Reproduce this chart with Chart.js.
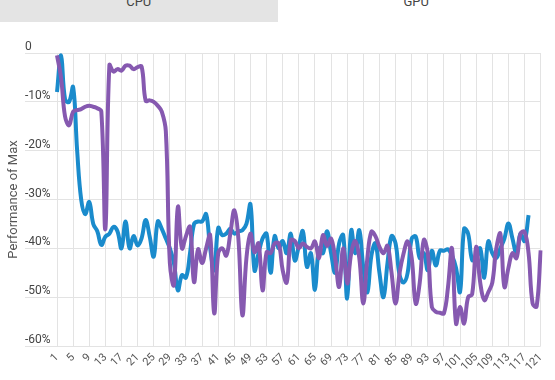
<!DOCTYPE html>
<html><head><meta charset="utf-8">
<script src="https://cdn.jsdelivr.net/npm/chart.js@4"></script>
<style>
html,body{margin:0;padding:0;background:#fff;width:555px;height:380px;overflow:hidden;font-family:Roboto,"Liberation Sans",sans-serif}
.tabs{position:absolute;left:0;top:0;width:555px;height:22px;display:flex}
.tab{flex:1;text-align:center;font-size:13px;color:#444;line-height:16px;overflow:hidden}
.tab span{position:relative;top:-6px}
.tab.cpu{background:#e4e4e4}
#wrap{position:absolute;left:0;top:22px;width:555px;height:358px}
</style></head><body>
<div class="tabs"><div class="tab cpu"><span>CPU</span></div><div class="tab gpu"><span>GPU</span></div></div>
<div id="wrap"><canvas id="c"></canvas></div>
<script>
const categories = Array.from({length:121},(_,i)=>String(i+1));
const tickStep = 4;
const yTicks = [0,-10,-20,-30,-40,-50,-60];

const blueSeries = [-8,-0.5,-9.5,-10,-7,-20,-30,-33,-30.5,-35,
-36.5,-39.3,-37.6,-37,-35.6,-36.5,-40,-34.5,-40,-37.5,
-39.4,-37.9,-34.2,-37.6,-41.7,-34.5,-36,-38,-40,-43,
-48.6,-45.5,-46,-41,-35,-34.5,-34.5,-33,-40,-44.5,
-35.8,-37.3,-37,-36,-37,-36.5,-36.3,-35,-31,-44.5,
-41,-38,-37,-45,-37.5,-40,-38.5,-41,-37,-42.5,
-39.5,-36.5,-43.8,-41,-48.5,-40,-41,-36.5,-41,-45,
-39,-37.3,-50.3,-36.3,-41,-36.3,-44,-49,-41.5,-39,
-45,-50,-43,-37.5,-39,-45.5,-47,-45,-38,-37.6,
-42,-41,-44.5,-40.5,-43.5,-40.5,-40.5,-40.2,-41.5,-44,
-48.9,-36,-37,-42.4,-42,-40,-46,-38.6,-41,-42,
-40,-38,-34.9,-38,-41,-37,-38.5,-33.2];

const purpleSeries = [-0.5,-5,-13,-14.8,-12,-11.7,-11.5,-11,-10.8,-11,
-11.3,-12,-36,-2.5,-3.8,-3.3,-3.6,-2.6,-2.6,-3.3,
-2.9,-2.8,-9.8,-9.7,-10,-10.8,-12,-16,-43,-47.5,
-31.5,-40,-37.5,-35.6,-46.9,-40.2,-43,-40,-37.3,-53.3,
-41,-40,-41.5,-37,-32.2,-38,-53.7,-42,-37,-40.8,
-39,-48.6,-40.8,-41,-39,-39,-44.5,-47,-38.3,-38.5,
-40,-39,-39.7,-40,-38.6,-42,-37.3,-39.5,-38,-42,
-47.9,-40,-47.2,-41,-38.5,-42,-51.3,-42,-36.6,-37.5,
-39.7,-41,-39.5,-45,-51.3,-45,-41,-38.6,-42,-51.3,
-47,-38.3,-41,-52,-53,-53.2,-53.3,-48,-40,-55.4,
-52,-55.4,-50,-49.4,-39.7,-47,-50.6,-49,-47,-40,
-37,-47.9,-44,-41,-42,-37,-36.6,-41,-51.3,-51.9,-40.4];

const BLUE = '#1a8bcc';
const PURPLE = '#8659b0';
const GRID = '#e3e3e3';

Chart.defaults.font.family = 'Roboto, "Liberation Sans", sans-serif';

new Chart(document.getElementById('c'), {
  type: 'line',
  data: {
    labels: categories,
    datasets: [
      {label:'Series 2', data: purpleSeries, borderColor: PURPLE, backgroundColor: PURPLE, borderWidth: 4, pointRadius: 0, tension: 0.4, fill: false},
      {label:'Series 1', data: blueSeries, borderColor: BLUE, backgroundColor: BLUE, borderWidth: 4, pointRadius: 0, tension: 0.4, fill: false}
    ]
  },
  options: {
    responsive: true,
    maintainAspectRatio: false,
    animation: false,
    layout: {padding: {left: 0, right: 11, top: 31, bottom: 0}},
    plugins: {legend: {display: false}, tooltip: {enabled: false}},
    scales: {
      x: {
        grid: {color: c => (c.index % tickStep === 0 ? GRID : 'rgba(0,0,0,0)'), drawTicks: false},
        border: {display: false},
        ticks: {autoSkip: false, maxRotation: 45, minRotation: 45, padding: 5, color: '#555', font: {size: 11},
          callback: (v, i) => (i % tickStep === 0 ? categories[i] : '')},
        afterFit: s => { s.height = 34; }
      },
      y: {
        min: yTicks[yTicks.length-1], max: yTicks[0],
        afterBuildTicks: s => { s.ticks = yTicks.map(v => ({value: v})); },
        ticks: {mirror: true, padding: -32, labelOffset: -6, color: '#444', font: {size: 12},
          callback: v => (v === 0 ? '0' : v + '%')},
        grid: {color: GRID, tickLength: 32, drawTicks: true},
        border: {display: false},
        title: {display: true, text: 'Performance of Max', color: '#555', font: {size: 13}, padding: {top: 6, bottom: 0}},
        afterFit: s => { s.width = 57; }
      }
    }
  }
});
</script>
</body></html>
